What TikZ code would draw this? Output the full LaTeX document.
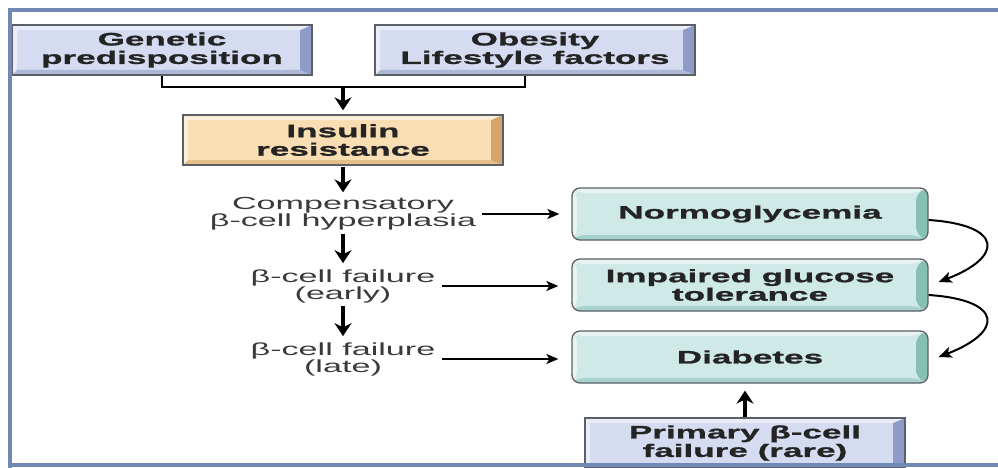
\documentclass[tikz,border=0pt]{standalone}
\usepackage{fontspec}
\newfontfamily\diagfont{Liberation Sans}[FakeStretch=1.95]
\newfontfamily\boxfont{Liberation Sans Bold}[FakeStretch=1.95,FakeBold=1.2]
\usetikzlibrary{arrows.meta,positioning,calc}
\definecolor{framblue}{HTML}{7189B4}
\definecolor{causefill}{HTML}{D5DCF1}
\definecolor{causeedge}{HTML}{8D9BC6}
\definecolor{resistfill}{HTML}{F9DEB3}
\definecolor{resistedge}{HTML}{D4A46B}
\definecolor{outfill}{HTML}{CFEAE6}
\definecolor{outedge}{HTML}{84C0B6}
\definecolor{boxline}{HTML}{5B5F66}
\definecolor{inkgray}{HTML}{242424}

\begin{document}
\begin{tikzpicture}[x=1pt,y=-1pt,
	bevel/.style={path picture={
		\fill[#1] ([xshift=-12pt,yshift=-5pt]path picture bounding box.north east) -- (path picture bounding box.north east) -- (path picture bounding box.south east) -- ([xshift=-12pt,yshift=5pt]path picture bounding box.south east) -- cycle;
		\fill[#1,opacity=.55] (path picture bounding box.south west) -- (path picture bounding box.south east) -- ([xshift=-12pt,yshift=5pt]path picture bounding box.south east) -- ([xshift=5pt,yshift=5pt]path picture bounding box.south west) -- cycle;
		\fill[white,opacity=.5] (path picture bounding box.south west) -- (path picture bounding box.north west) -- ([xshift=5pt,yshift=-5pt]path picture bounding box.north west) -- ([xshift=5pt,yshift=5pt]path picture bounding box.south west) -- cycle;
		\fill[white,opacity=.5] (path picture bounding box.north west) -- (path picture bounding box.north east) -- ([xshift=-12pt,yshift=-5pt]path picture bounding box.north east) -- ([xshift=5pt,yshift=-5pt]path picture bounding box.north west) -- cycle;
	}},
	cause/.style={draw=boxline,line width=1.3pt,fill=causefill,bevel=causeedge,minimum width=300pt,minimum height=50pt,align=center,text=inkgray,font=\boxfont\fontsize{18}{18.5}\selectfont},
	resist/.style={cause,fill=resistfill,bevel=resistedge,minimum width=320pt},
	outcome/.style={cause,fill=outfill,bevel=outedge,rounded corners=8pt,minimum width=356pt,minimum height=52pt},
	phase/.style={align=center,inner xsep=6pt,inner ysep=1pt,text=inkgray!90,font=\diagfont\fontsize{17.5}{17}\selectfont},
	link/.style={line width=2.2pt},
	flow/.style={-{Stealth[length=13pt,width=17pt]},line width=3.2pt},
	feed/.style={-{Stealth[length=12pt,width=10pt,inset=3pt]},line width=1.7pt},
	curl/.style={-{Stealth[length=13pt,width=11pt,inset=3pt]},line width=2pt}
	]
	\useasboundingbox (0,0) rectangle (998,468);
	\node[cause] (gen) at (162,50) {Genetic\\predisposition};
	\node[cause,minimum width=320pt] (obe) at (535,50) {Obesity\\Lifestyle factors};
	\coordinate (join) at (343,87);
	\node[resist] (ins) at (343,140) {Insulin\\resistance};
	\node[phase] (comp) at (343,214) {Compensatory\\β-cell hyperplasia};
	\node[phase] (early) at (343,286) {β-cell failure\\(early)};
	\node[phase] (late) at (343,359) {β-cell failure\\(late)};
	\node[outcome] (normo) at (750,214) {Normoglycemia};
	\node[outcome] (igt) at (750,285) {Impaired glucose\\tolerance};
	\node[outcome] (diab) at (750,357) {Diabetes};
	\node[cause,minimum width=320pt] (prim) at (745,443) {Primary β-cell\\failure (rare)};
	\draw[link] (gen.south) |- (join) -| ([xshift=-10pt]obe.south);
	\draw[flow,shorten >=4pt] (join) -- (ins.north);
	\draw[flow,shorten <=1pt,shorten >=4pt] (ins.south) -- (comp.north);
	\draw[flow,shorten <=2pt,shorten >=5pt] (comp.south) -- (early.north);
	\draw[flow,shorten <=2pt,shorten >=5pt] (early.south) -- (late.north);
	\draw[feed,shorten >=12pt] (comp.east) -- (comp.east -| normo.west);
	\draw[feed,shorten >=13pt] (early.east) -- (early.east -| igt.west);
	\draw[feed,shorten >=13pt] (late.east) -- (late.east -| diab.west);
	\draw[curl] ([yshift=-6pt]normo.east) .. controls +(75,5) and +(65,-25) .. ([xshift=10pt,yshift=3pt]igt.east);
	\draw[curl] ([yshift=-10pt]igt.east) .. controls +(75,5) and +(65,-25) .. ([xshift=10pt]diab.east);
	\draw[flow,shorten >=7pt] (prim.north) -- (prim.north |- diab.south);
	\draw[framblue,line width=3.5pt] (998,10) -- (10,10) -- (10,468);
	\draw[framblue,line width=3.5pt] (10,465) -- (998,465);
\end{tikzpicture}
\end{document}
